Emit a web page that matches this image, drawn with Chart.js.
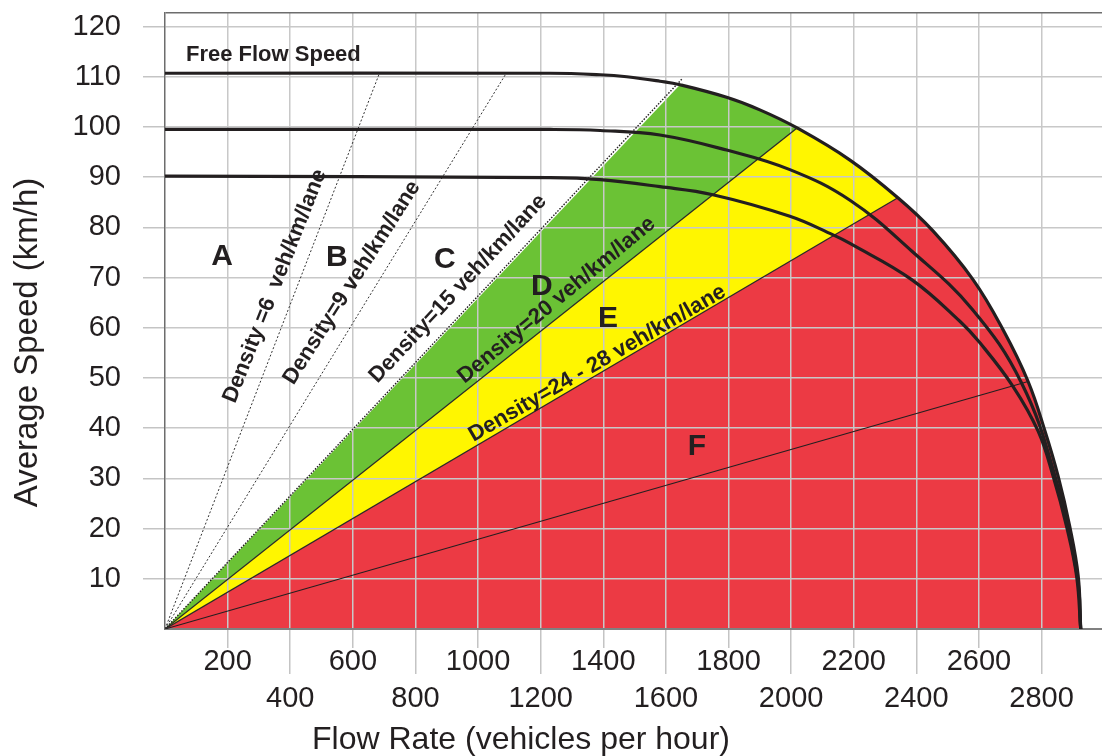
<!DOCTYPE html>
<html>
<head>
<meta charset="utf-8">
<title>Speed–Flow Level of Service</title>
<script src="https://cdn.jsdelivr.net/npm/chart.js@4/dist/chart.umd.min.js"></script>
<style>
  html, body { margin: 0; padding: 0; background: #ffffff; overflow: hidden; }
  canvas { display: block; }
</style>
</head>
<body>
<canvas id="chart" width="1102" height="756"></canvas>
<script>
// Speed–flow curves, [flow (veh/h), speed (km/h)]
const curve110 = [[0,110.7],[1230,110.7],[1390,110.4],[1475,110.0],[1581,109.1],[1645,108.4],[1794,105.9],[1900,103.4],[2019,99.8],[2188,93.4],[2341,85.9],[2453,79.3],[2581,69.6],[2677,59.6],[2757,49.3],[2811,39.4],[2853,30.4],[2890,20.4],[2917,10.5],[2925,0]];
const curve100 = [[0,99.5],[1230,99.5],[1390,99.3],[1581,98.4],[1794,95.4],[1996,91.5],[2188,85.4],[2385,75.3],[2577,63.8],[2736,49.0],[2843,30.4],[2914,10.5],[2925,0]];
const curve90 = [[0,90.2],[1230,89.9],[1390,89.5],[1581,88.1],[1750,86.5],[1996,82.2],[2134,78.5],[2188,76.8],[2385,69.6],[2539,61.3],[2603,57.0],[2709,48.3],[2789,39.4],[2837,30.4],[2880,20.4],[2912,10.5],[2925,0]];

// Constant-density rays from the origin, end point [flow, speed]
const rayEnds = [[685,110.7],[1090,110.7],[1652,109.6],[2019,99.8],[2341,85.9],[2757,49.3]];
const densityLabels = ['Density =6  veh/km/lane','Density=9 veh/km/lane','Density=15 veh/km/lane','Density=20 veh/km/lane','Density=24 - 28 veh/km/lane'];

// Level-of-service zones: letter and the flow where each colour band meets the outer curve
const losLetters = ['A','B','C','D','E','F'];
const bandStartFlow = [1645, 2019, 2341];
const bandColors = ['#6BC235', '#FFF600', '#EC3A44'];

const xTickValues = [200,400,600,800,1000,1200,1400,1600,1800,2000,2200,2400,2600,2800];
const yTickValues = [10,20,30,40,50,60,70,80,90,100,110,120];

const freeFlowTitle = 'Free Flow Speed';
const xTitle = 'Flow Rate (vehicles per hour)';
const yTitle = 'Average Speed (km/h)';

// ---- layout ----
const X_MAX = 2993;
const Y_MAX = 122.7;
const FONT = '"Liberation Sans", Arial, Helvetica, sans-serif';
const INK = '#231f20';
const letterPlacement = [[182,74.1],[549,73.9],[894,73.5],[1204,68.1],[1415,61.8],[1699,36.3]];
const densityPlacement = [[351,68.3,-68.5],[597,69.0,-57.5],[936,67.8,-47],[1251,65.5,-39.5],[1381,52.9,-30]];
const freeFlowPlacement = [67, 113.1];
const rayStyles = [
  {color: '#333', width: 1, dash: [2, 2]},
  {color: '#333', width: 1, dash: [2, 2]},
  {color: INK, width: 1.4, dash: [1.5, 1.5]},
  {color: '#2a2a2a', width: 1.3, dash: []},
  {color: '#2a2a2a', width: 1.3, dash: []},
  {color: INK, width: 1.1, dash: []}
];

const toXY = pts => pts.map(([x, y]) => ({x, y}));

// Region bounded by the origin ray, the outer curve and the flow axis
function underOuterCurve(fromFlow) {
  const pts = [{x: 0, y: 0}];
  curve110.forEach(([f, s]) => { if (f >= fromFlow) pts.push({x: f, y: s}); });
  return pts;
}

const datasets = [];
bandStartFlow.forEach((f, i) => {
  datasets.push({
    data: underOuterCurve(f),
    fill: 'origin',
    backgroundColor: bandColors[i],
    borderWidth: 0,
    pointRadius: 0,
    tension: 0,
    order: 30 - i * 10
  });
});
rayEnds.forEach((e, i) => {
  const st = rayStyles[i];
  datasets.push({
    data: [{x: 0, y: 0}, {x: e[0], y: e[1]}],
    fill: false,
    borderColor: st.color,
    borderWidth: st.width,
    borderDash: st.dash,
    pointRadius: 0,
    order: 5
  });
});
[curve110, curve100, curve90].forEach(c => {
  datasets.push({
    data: toXY(c),
    fill: false,
    borderColor: INK,
    borderWidth: 3.2,
    pointRadius: 0,
    tension: 0.4,
    order: 0
  });
});

// Zone letters, density captions and axis titles
const chartText = {
  id: 'chartText',
  afterDatasetsDraw(chart) {
    const {ctx} = chart;
    const xs = chart.scales.x, ys = chart.scales.y;
    ctx.save();
    ctx.fillStyle = INK;

    ctx.font = 'bold 22px ' + FONT;
    ctx.textAlign = 'left';
    ctx.textBaseline = 'alphabetic';
    ctx.fillText(freeFlowTitle, xs.getPixelForValue(freeFlowPlacement[0]), ys.getPixelForValue(freeFlowPlacement[1]));

    ctx.font = 'bold 30px ' + FONT;
    ctx.textAlign = 'center';
    ctx.textBaseline = 'middle';
    losLetters.forEach((t, i) => {
      ctx.fillText(t, xs.getPixelForValue(letterPlacement[i][0]), ys.getPixelForValue(letterPlacement[i][1]));
    });

    ctx.font = 'bold 22px ' + FONT;
    densityLabels.forEach((t, i) => {
      const [f, s, deg] = densityPlacement[i];
      ctx.save();
      ctx.translate(xs.getPixelForValue(f), ys.getPixelForValue(s));
      ctx.rotate(deg * Math.PI / 180);
      ctx.fillText(t, 0, 0);
      ctx.restore();
    });
    ctx.restore();
  },
  afterDraw(chart) {
    const {ctx} = chart;
    ctx.save();
    ctx.fillStyle = INK;
    ctx.textAlign = 'center';
    ctx.font = '32px ' + FONT;
    ctx.textBaseline = 'alphabetic';
    ctx.fillText(xTitle, 521, 748.5);
    ctx.font = '33px ' + FONT;
    ctx.textBaseline = 'middle';
    ctx.translate(27.5, 342.5);
    ctx.rotate(-Math.PI / 2);
    ctx.fillText(yTitle, 0, 0);
    ctx.restore();
  }
};

new Chart(document.getElementById('chart'), {
  type: 'line',
  data: {datasets},
  plugins: [chartText],
  options: {
    responsive: false,
    devicePixelRatio: 1,
    animation: false,
    layout: {padding: {top: 13, right: 0, bottom: 0, left: 0}},
    elements: {point: {radius: 0}, line: {tension: 0}},
    plugins: {
      legend: {display: false},
      tooltip: {enabled: false},
      filler: {drawTime: 'beforeDraw', propagate: false}
    },
    scales: {
      x: {
        type: 'linear',
        position: 'bottom',
        min: 0,
        max: X_MAX,
        afterBuildTicks: s => { s.ticks = xTickValues.map(v => ({value: v})); },
        afterFit: s => { s.height = 127; s.paddingLeft = 0; s.paddingRight = 0; },
        border: {display: true, color: '#808080', width: 2},
        grid: {
          color: '#c8c8c8',
          lineWidth: 1.5,
          tickLength: 45,
          tickColor: '#c4c4c4',
          tickWidth: 1.5,
          tickBorderDash: c => (c.tick && (c.tick.value / 200) % 2 === 1) ? [18, 100] : []
        },
        ticks: {
          autoSkip: false,
          maxRotation: 0,
          minRotation: 0,
          padding: -30.5,
          color: INK,
          font: {family: FONT, size: 29, lineHeight: 1.28},
          callback: v => ((v / 200) % 2 === 1) ? String(v) : ['', String(v)]
        }
      },
      y: {
        type: 'linear',
        min: 0,
        max: Y_MAX,
        afterBuildTicks: s => { s.ticks = yTickValues.concat([Y_MAX]).map(v => ({value: v})); },
        afterFit: s => { s.width = 165; s.paddingTop = 0; s.paddingBottom = 0; },
        border: {display: true, color: '#6d6d6d', width: 1.5},
        grid: {
          color: c => (c.tick && c.tick.value === Y_MAX) ? '#6d6d6d' : '#c8c8c8',
          lineWidth: 1.5,
          tickLength: 22,
          tickColor: c => (c.tick && c.tick.value === Y_MAX) ? 'rgba(0,0,0,0)' : '#c4c4c4',
          tickWidth: 1.5
        },
        ticks: {
          autoSkip: false,
          padding: 22,
          color: INK,
          font: {family: FONT, size: 29},
          callback: v => v === Y_MAX ? '' : String(v)
        }
      }
    }
  }
});
</script>
</body>
</html>
